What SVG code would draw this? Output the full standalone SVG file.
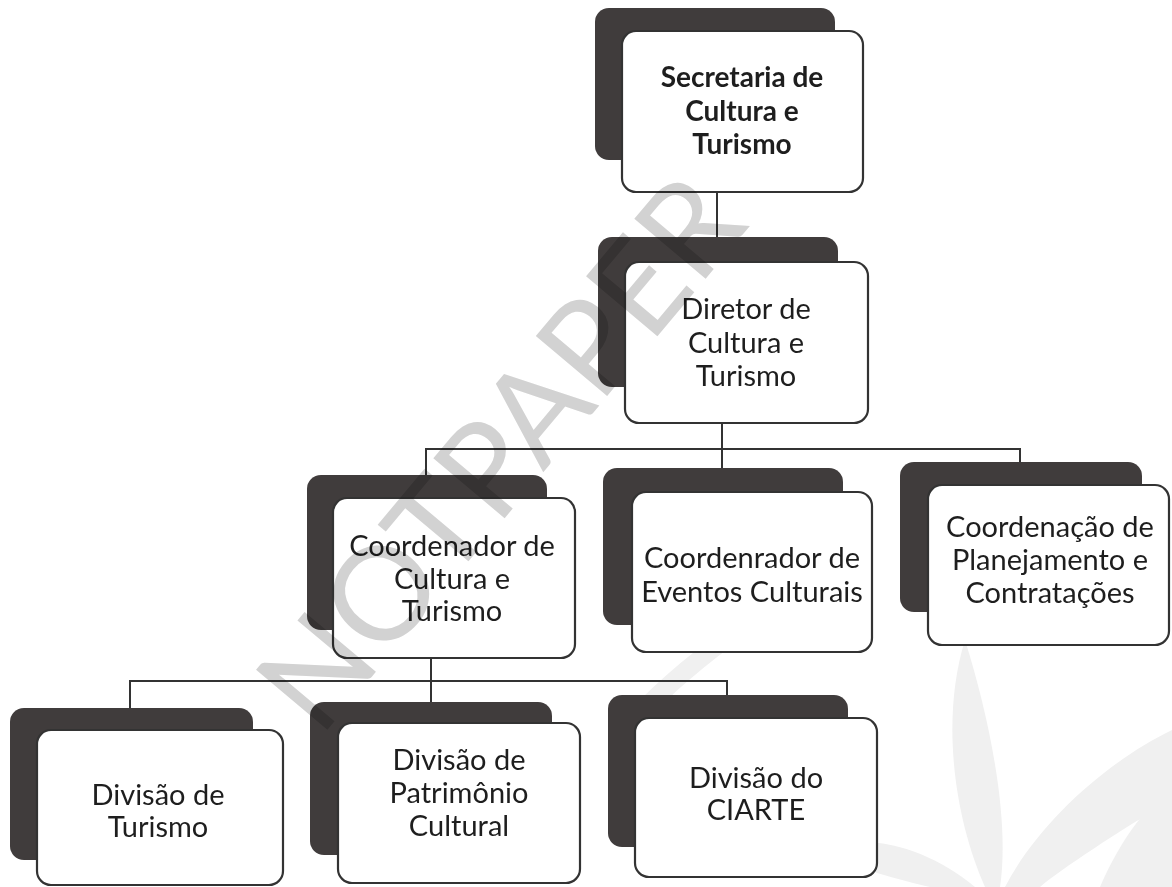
<svg xmlns="http://www.w3.org/2000/svg" width="1172" height="887" viewBox="0 0 1172 887">
<style>
.shadow{fill:#403c3c;}
.box{fill:#ffffff;stroke:#333;stroke-width:2.2;}
.lbl{font-family:Lato,"Liberation Sans",sans-serif;font-size:29px;fill:#1e1e1e;text-anchor:middle;}
.b{font-weight:bold;font-size:28px;}
.con{stroke:#333;stroke-width:2;fill:none;}
.logo{fill:#f0f0f0;}
.wm{font-family:Lato,"Liberation Sans",sans-serif;font-size:130px;font-weight:normal;fill:#d2d2d2;mix-blend-mode:multiply;}
</style>
<rect width="1172" height="887" fill="#ffffff"/>
<g id="logo">
<path class="logo" d="M985,887 C955,820 940,720 965,640 C990,720 1010,820 1000,887 Z"/>
<path class="logo" d="M1005,887 C1040,820 1110,760 1172,730 L1172,800 C1120,830 1060,870 1040,887 Z"/>
<path class="logo" d="M975,887 C930,850 870,830 820,850 C860,870 900,880 930,887 Z"/>
<path class="logo" d="M1100,887 C1120,840 1150,800 1172,790 L1172,887 Z"/>
<path class="logo" d="M640,700 C690,650 760,600 840,560 L845,575 C770,615 700,665 655,712 Z"/>
</g>
<g id="connectors">
<path class="con" d="M717,192 V237"/>
<path class="con" d="M722,423 V449"/>
<path class="con" d="M426,475 V449 H1020 V462"/>
<path class="con" d="M722,449 V468"/>
<path class="con" d="M431,658 V681"/>
<path class="con" d="M130,708 V681 H727 V695"/>
<path class="con" d="M431,681 V702"/>
</g>
<g id="secretaria">
<rect class="shadow" x="595" y="8" width="240" height="152" rx="14"/>
<rect class="box" x="622" y="31" width="241" height="161" rx="14"/>
<text class="lbl b" x="742" y="87">Secretaria de</text>
<text class="lbl b" x="742" y="121">Cultura e</text>
<text class="lbl b" x="742" y="154">Turismo</text>
</g>
<g id="diretor">
<rect class="shadow" x="598" y="237" width="240" height="150" rx="14"/>
<rect class="box" x="625" y="262" width="243" height="161" rx="14"/>
<text class="lbl" x="746" y="319">Diretor de</text>
<text class="lbl" x="746" y="353">Cultura e</text>
<text class="lbl" x="746" y="386">Turismo</text>
</g>
<g id="coord-cultura">
<rect class="shadow" x="307" y="475" width="240" height="155" rx="14"/>
<rect class="box" x="333" y="498" width="242" height="160" rx="14"/>
<text class="lbl" x="452" y="556">Coordenador de</text>
<text class="lbl" x="452" y="589">Cultura e</text>
<text class="lbl" x="452" y="621">Turismo</text>
</g>
<g id="coord-eventos">
<rect class="shadow" x="603" y="468" width="240" height="157" rx="14"/>
<rect class="box" x="632" y="492" width="240" height="160" rx="14"/>
<text class="lbl" x="752" y="568">Coordenrador de</text>
<text class="lbl" x="752" y="602">Eventos Culturais</text>
</g>
<g id="coord-planejamento">
<rect class="shadow" x="900" y="462" width="242" height="150" rx="14"/>
<rect class="box" x="928" y="485" width="241" height="160" rx="14"/>
<text class="lbl" x="1050" y="537">Coordenação de</text>
<text class="lbl" x="1050" y="570">Planejamento e</text>
<text class="lbl" x="1050" y="603">Contratações</text>
</g>
<g id="div-turismo">
<rect class="shadow" x="10" y="708" width="243" height="152" rx="14"/>
<rect class="box" x="37" y="730" width="246" height="155" rx="14"/>
<text class="lbl" x="158" y="805">Divisão de</text>
<text class="lbl" x="158" y="837">Turismo</text>
</g>
<g id="div-patrimonio">
<rect class="shadow" x="310" y="702" width="242" height="153" rx="14"/>
<rect class="box" x="338" y="723" width="242" height="160" rx="14"/>
<text class="lbl" x="459" y="770">Divisão de</text>
<text class="lbl" x="459" y="803">Patrimônio</text>
<text class="lbl" x="459" y="836">Cultural</text>
</g>
<g id="div-ciarte">
<rect class="shadow" x="608" y="695" width="240" height="152" rx="14"/>
<rect class="box" x="635" y="718" width="242" height="159" rx="14"/>
<text class="lbl" x="756" y="788">Divisão do</text>
<text class="lbl" x="756" y="820">CIARTE</text>
</g>
<text class="wm" transform="translate(535,482) rotate(-50)" text-anchor="middle">NOTPAPER</text>
</svg>
